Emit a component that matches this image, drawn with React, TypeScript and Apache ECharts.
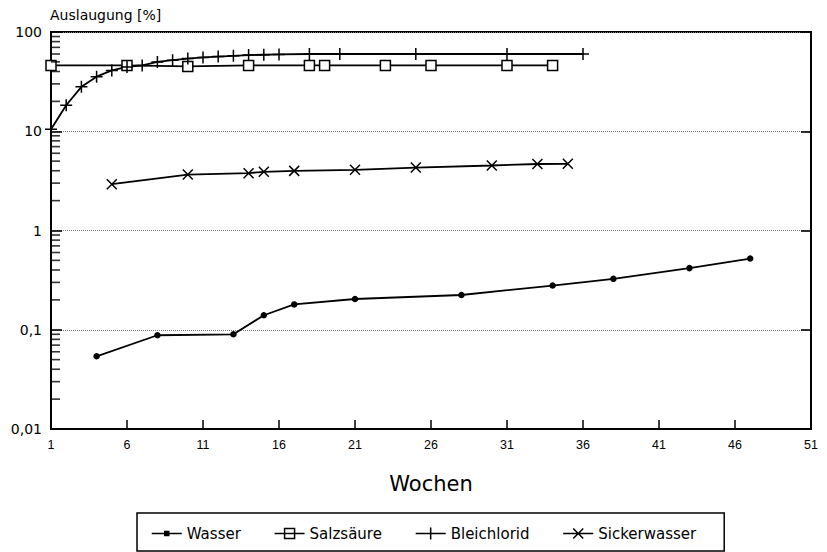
import { useEffect, useRef } from "react";
import * as echarts from "echarts";

// week numbers and leaching values [%]
const wasserWeeks = [4, 8, 13, 15, 17, 21, 28, 34, 38, 43, 47];
const wasserValues = [0.054, 0.088, 0.09, 0.14, 0.18, 0.204, 0.224, 0.279, 0.326, 0.418, 0.522];

const salzsaeureWeeks = [1, 6, 10, 14, 18, 19, 23, 26, 31, 34];
const salzsaeureValues = [46, 46, 45, 46, 46, 46, 46, 46, 46, 46];

const bleichloridWeeks = [1, 2, 3, 4, 5, 6, 7, 8, 9, 10, 11, 12, 13, 14, 15, 16, 18, 20, 25, 31, 36];
const bleichloridValues = [10.5, 18.3, 28, 35.5, 41, 44.5, 46, 50, 52, 54, 55.5, 56.5, 57.5, 58.5, 59, 59.5, 60, 60, 60, 60, 60];

const sickerwasserWeeks = [5, 10, 14, 15, 17, 21, 25, 30, 33, 35];
const sickerwasserValues = [2.93, 3.66, 3.78, 3.9, 3.99, 4.09, 4.31, 4.52, 4.68, 4.7];

// minor ticks of the logarithmic axis (2..9 per decade)
const minorTickValues = [
  0.02, 0.03, 0.04, 0.05, 0.06, 0.07, 0.08, 0.09,
  0.2, 0.3, 0.4, 0.5, 0.6, 0.7, 0.8, 0.9,
  2, 3, 4, 5, 6, 7, 8, 9,
  20, 30, 40, 50, 60, 70, 80, 90
];

const firstWeek = 1;
const lastWeek = 51;
const weekStep = 5;

const sans = "'DejaVu Sans', sans-serif";
const labelFont = "'Liberation Sans', Arial, sans-serif";
const black = "#000";

const blackItem = { color: black, borderColor: black, borderWidth: 1.5 };

function toPoints(weeks: number[], values: number[]) {
  // the x axis runs from 0, so weeks are shifted by the first week
  return weeks.map((week, i) => [week - firstWeek, values[i]]);
}

function formatLog(value: number) {
  return String(Number(value.toPrecision(4))).replace(".", ",");
}

function buildOption(): echarts.EChartsCoreOption {
  const lineBase = {
    type: "line" as const,
    lineStyle: { color: black, width: 1.8 },
    emphasis: { disabled: true },
    silent: true
  };

  return {
    animation: false,
    backgroundColor: "#fff",
    grid: {
      left: 51,
      right: 16,
      top: 32,
      bottom: 123,
      show: true,
      borderColor: black,
      borderWidth: 2,
      backgroundColor: "transparent"
    },
    legend: {
      left: 137,
      top: 513,
      orient: "horizontal",
      padding: [13, 28, 10, 14],
      itemGap: 33,
      itemWidth: 30,
      itemHeight: 12,
      borderColor: black,
      borderWidth: 1.5,
      selectedMode: false,
      textStyle: { color: black, fontSize: 15, fontFamily: sans },
      data: [
        { name: "Wasser", icon: "path://M0,2H30M13,0h4v4h-4z", itemStyle: blackItem },
        {
          name: "Salzsäure",
          icon: "path://M0,5H30M10,0h10v10h-10z",
          itemStyle: { color: "#fff", borderColor: black, borderWidth: 1.5 }
        },
        { name: "Bleichlorid", icon: "path://M0,6H30M15,0V12", itemStyle: blackItem },
        { name: "Sickerwasser", icon: "path://M0,5H30M10,0L20,10M20,0L10,10", itemStyle: blackItem }
      ]
    },
    xAxis: {
      type: "value",
      min: 0,
      max: lastWeek - firstWeek,
      interval: weekStep,
      name: "Wochen",
      nameLocation: "middle",
      nameGap: 55,
      nameTextStyle: { color: black, fontSize: 21, fontFamily: sans, verticalAlign: "middle" },
      axisLine: { show: true, onZero: false, lineStyle: { color: black, width: 2 } },
      axisTick: { show: true, inside: true, length: 9, lineStyle: { color: black, width: 1.5 } },
      axisLabel: {
        margin: 9,
        color: black,
        fontSize: 12.5,
        fontFamily: labelFont,
        formatter: (value: number) => String(value + firstWeek)
      },
      splitLine: { show: false }
    },
    yAxis: [
      {
        type: "log",
        logBase: 10,
        min: 0.01,
        max: 100,
        position: "left",
        name: "Auslaugung [%]",
        nameLocation: "end",
        nameGap: 17,
        nameTextStyle: {
          color: black,
          fontSize: 14,
          fontFamily: sans,
          align: "left",
          verticalAlign: "middle",
          padding: [0, 0, 0, -1]
        },
        axisLine: { show: true, onZero: false, lineStyle: { color: black, width: 2 } },
        axisTick: { show: true, inside: true, length: 11, lineStyle: { color: black, width: 1.6 } },
        axisLabel: {
          margin: 9,
          color: black,
          fontSize: 14,
          fontFamily: sans,
          formatter: (value: number) => formatLog(value)
        },
        splitLine: { show: true, lineStyle: { color: "#777", type: "dotted", width: 1 } }
      },
      {
        type: "log",
        logBase: 10,
        min: 0.01,
        max: 100,
        position: "right",
        axisLine: { show: true, onZero: false, lineStyle: { color: black, width: 2 } },
        axisTick: { show: true, inside: true, length: 10, lineStyle: { color: black, width: 1.6 } },
        axisLabel: { show: false },
        splitLine: { show: false }
      }
    ],
    series: [
      {
        // short inward marks along the left axis at 2..9 of each decade
        type: "scatter",
        name: "minorTicks",
        silent: true,
        clip: false,
        xAxisIndex: 0,
        yAxisIndex: 0,
        data: minorTickValues.map((v) => [0, v]),
        symbol: "rect",
        symbolSize: [9, 1.6],
        symbolOffset: [4.5, 0],
        itemStyle: { color: black },
        emphasis: { disabled: true },
        z: 5
      },
      {
        ...lineBase,
        name: "Wasser",
        data: toPoints(wasserWeeks, wasserValues),
        symbol: "circle",
        symbolSize: 5,
        itemStyle: blackItem
      },
      {
        ...lineBase,
        name: "Salzsäure",
        data: toPoints(salzsaeureWeeks, salzsaeureValues),
        symbol: "rect",
        symbolSize: 10,
        itemStyle: { color: "#fff", borderColor: black, borderWidth: 1.5 }
      },
      {
        ...lineBase,
        name: "Bleichlorid",
        data: toPoints(bleichloridWeeks, bleichloridValues),
        symbol: "path://M5,0V10M0,5H10",
        symbolSize: 12,
        itemStyle: blackItem
      },
      {
        ...lineBase,
        name: "Sickerwasser",
        data: toPoints(sickerwasserWeeks, sickerwasserValues),
        symbol: "path://M0,0L10,10M10,0L0,10",
        symbolSize: 10,
        itemStyle: blackItem
      }
    ]
  };
}

export default function App() {
  const chartRef = useRef<HTMLDivElement | null>(null);

  useEffect(() => {
    document.body.style.margin = "0";
    if (!chartRef.current) {
      return;
    }
    const chart = echarts.init(chartRef.current, undefined, { renderer: "svg" });
    chart.setOption(buildOption());
    return () => {
      chart.dispose();
    };
  }, []);

  return <div ref={chartRef} style={{ width: 827, height: 552, background: "#fff" }} />;
}
